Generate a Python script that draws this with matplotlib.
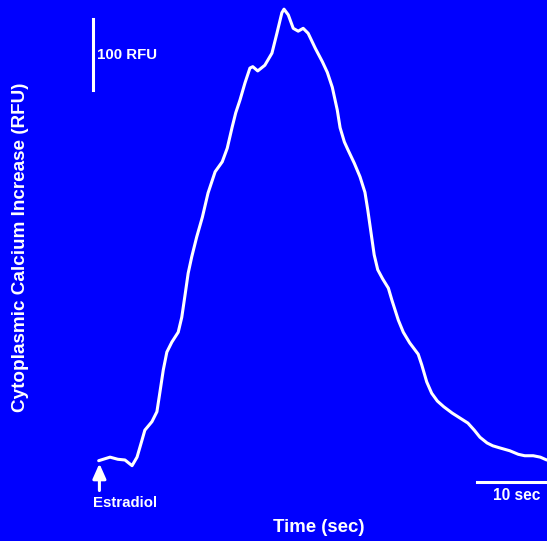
import matplotlib.pyplot as plt

plt.rcParams['font.family'] = ['Liberation Sans', 'DejaVu Sans']
plt.rcParams['font.weight'] = 'bold'

# calcium trace after estradiol addition (time in sec, response in RFU)
time_sec = [0.1, 1.7, 2.8, 3.8, 4.8, 5.5, 6.2, 6.6, 7.6, 8.3, 8.7, 9.2,
            9.7, 10.4, 11.3, 11.8, 12.3, 12.7, 13.2, 13.9, 14.7, 15.5,
            16.5, 17.5, 18.2, 18.9, 19.4, 20.0, 20.7, 21.4, 21.8, 22.5,
            23.5, 24.5, 25.2, 25.9, 26.2, 26.8, 27.5, 28.2, 28.9, 29.6,
            30.6, 31.6, 32.3, 33.0, 33.7, 34.1, 34.7, 35.2, 36.1, 36.9,
            37.6, 38.0, 38.5, 38.9, 39.4, 40.1, 40.9, 41.4, 42.3, 43.0,
            43.9, 45.1, 45.6, 46.3, 47.0, 47.8, 48.7, 49.9, 51.0, 52.1,
            53.0, 53.8, 54.8, 55.6, 56.6, 58.0, 59.2, 60.1, 61.3, 62.3,
            63.2]
rfu = [-1, 4, 1, 0, -8, 4, 28, 42, 54, 68, 94, 127,
       152, 166, 180, 201, 235, 263, 286, 314, 342, 376,
       406, 420, 439, 469, 489, 507, 531, 552, 554, 548,
       556, 573, 601, 630, 635, 627, 608, 604, 608, 601,
       580, 561, 546, 525, 493, 468, 448, 437, 418, 399,
       377, 352, 317, 289, 268, 255, 242, 225, 197, 180,
       165, 149, 134, 110, 94, 83, 75, 66, 59, 52,
       42, 32, 24, 20, 17, 13, 8, 6, 6, 4,
       0]

fig = plt.figure(figsize=(5.47, 5.41), dpi=100)
fig.patch.set_facecolor('#0000ff')
ax = fig.add_axes([0, 0, 1, 1])
ax.set_facecolor('#0000ff')
ax.set_xlim(-13.8, 63.24)
ax.set_ylim(-114.1, 647.9)
ax.axis('off')

ax.plot(time_sec, rfu, color='white', lw=2.2,
        solid_joinstyle='round', solid_capstyle='round')

# scale bars
ax.plot([-0.7, -0.7], [521, 621], color='white', lw=2.2)
ax.text(-0.1, 571, '100 RFU', color='white', fontsize=10.8, va='center')
ax.plot([53.4, 63.3], [-31, -31], color='white', lw=2.2)
ax.text(59.0, -50, '10 sec', color='white', fontsize=11.2, ha='center', va='center')

# stimulus marker
ax.annotate('', xy=(0.2, -5), xytext=(0.2, -43),
            arrowprops=dict(arrowstyle='-|>,head_width=0.4,head_length=0.9',
                            color='white', lw=2.2, shrinkA=0, shrinkB=0))
ax.text(3.8, -61, 'Estradiol', color='white', fontsize=10.8, ha='center', va='center')

fig.text(319 / 547, 1 - 527 / 541, 'Time (sec)', color='white', fontsize=13.4,
         ha='center', va='center')
fig.text(21 / 547, 1 - 247 / 541, 'Cytoplasmic Calcium Increase (RFU)', color='white',
         fontsize=13.6, rotation=90, ha='center', va='center')

fig.savefig('out.png', dpi=100, facecolor=fig.get_facecolor())
